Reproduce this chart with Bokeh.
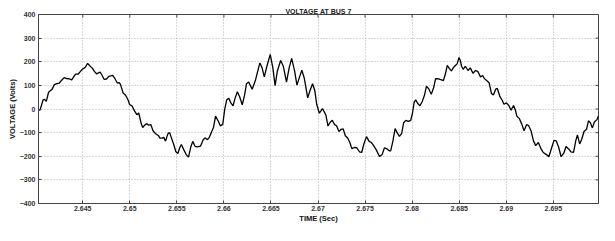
import math
from bokeh.plotting import figure
from bokeh.models import FixedTicker, Range1d, ColumnDataSource
from bokeh.embed import file_html
from bokeh.resources import INLINE

time_s = [
    2.64035, 2.64046, 2.64079, 2.64095, 2.64113, 2.64137, 2.64155, 2.64175, 2.64199, 2.64224,
    2.64251, 2.64279, 2.64303, 2.64328, 2.64355, 2.64383, 2.64407, 2.64424, 2.64452, 2.64476,
    2.64494, 2.64510, 2.64528, 2.64552, 2.64580, 2.64604, 2.64624, 2.64649, 2.64666, 2.64684,
    2.64701, 2.64728, 2.64753, 2.64777, 2.64798, 2.64818, 2.64842, 2.64867, 2.64888, 2.64901,
    2.64929, 2.64956, 2.64981, 2.64998, 2.65026, 2.65050, 2.65075, 2.65095, 2.65119, 2.65137,
    2.65154, 2.65178, 2.65199, 2.65223, 2.65247, 2.65275, 2.65303, 2.65320, 2.65344, 2.65361,
    2.65379, 2.65407, 2.65423, 2.65465, 2.65490, 2.65510, 2.65534, 2.65548, 2.65573, 2.65600,
    2.65624, 2.65648, 2.65669, 2.65693, 2.65718, 2.65752, 2.65780, 2.65799, 2.65825, 2.65845,
    2.65866, 2.65890, 2.65911, 2.65936, 2.65963, 2.65988, 2.66008, 2.66029, 2.66050, 2.66074,
    2.66097, 2.66118, 2.66143, 2.66167, 2.66195, 2.66219, 2.66240, 2.66263, 2.66300, 2.66336,
    2.66382, 2.66406, 2.66429, 2.66457, 2.66492, 2.66520, 2.66544, 2.66568, 2.66603, 2.66631,
    2.66665, 2.66693, 2.66720, 2.66751, 2.66776, 2.66803, 2.66828, 2.66855, 2.66890, 2.66914,
    2.66942, 2.66966, 2.66986, 2.67014, 2.67047, 2.67083, 2.67106, 2.67129, 2.67152, 2.67176,
    2.67197, 2.67222, 2.67246, 2.67267, 2.67290, 2.67315, 2.67336, 2.67360, 2.67384, 2.67412,
    2.67440, 2.67464, 2.67487, 2.67515, 2.67543, 2.67567, 2.67591, 2.67619, 2.67653, 2.67681,
    2.67705, 2.67730, 2.67757, 2.67772, 2.67796, 2.67819, 2.67840, 2.67865, 2.67889, 2.67910,
    2.67933, 2.67958, 2.67985, 2.68003, 2.68021, 2.68037, 2.68062, 2.68083, 2.68107, 2.68131,
    2.68151, 2.68176, 2.68203, 2.68228, 2.68249, 2.68270, 2.68297, 2.68332, 2.68353, 2.68373,
    2.68394, 2.68418, 2.68436, 2.68459, 2.68477, 2.68498, 2.68511, 2.68525, 2.68542, 2.68566,
    2.68594, 2.68618, 2.68646, 2.68670, 2.68698, 2.68726, 2.68750, 2.68767, 2.68794, 2.68819,
    2.68843, 2.68864, 2.68888, 2.68905, 2.68933, 2.68957, 2.68975, 2.69002, 2.69027, 2.69051,
    2.69077, 2.69095, 2.69113, 2.69141, 2.69165, 2.69189, 2.69217, 2.69237, 2.69263, 2.69289,
    2.69313, 2.69341, 2.69369, 2.69393, 2.69427, 2.69452, 2.69479, 2.69507, 2.69531, 2.69556,
    2.69583, 2.69611, 2.69635, 2.69660, 2.69687, 2.69715, 2.69738, 2.69756, 2.69780, 2.69801,
    2.69826, 2.69853, 2.69873, 2.69894, 2.69915, 2.69936, 2.69964, 2.69981,
]

voltage_v = [
    -5, -5, 39, 41, 32, 71, 77, 84, 103, 107,
    110, 123, 133, 129, 128, 123, 138, 148, 148, 159,
    168, 172, 177, 193, 181, 172, 159, 148, 153, 156,
    146, 125, 127, 138, 140, 142, 129, 110, 112, 104,
    68, 58, 39, 19, 12, -8, -24, -17, -58, -79,
    -70, -62, -68, -66, -92, -105, -112, -123, -123, -120,
    -136, -103, -100, -148, -181, -188, -161, -150, -172, -193,
    -204, -161, -137, -158, -160, -157, -130, -122, -130, -120,
    -100, -77, -30, -48, -72, -64, -3, 38, 46, 26,
    13, 45, 73, 52, 18, 58, 107, 114, 84, 123,
    195, 174, 136, 181, 231, 174, 99, 161, 205, 181,
    114, 174, 214, 161, 101, 135, 164, 129, 47, 77,
    107, 77, 20, -18, 2, -25, -72, -56, -48, -66,
    -71, -95, -86, -84, -113, -123, -140, -168, -163, -164,
    -181, -184, -148, -117, -137, -142, -155, -173, -201, -193,
    -165, -168, -177, -177, -135, -83, -100, -116, -103, -58,
    -48, -52, -48, -19, 28, 39, 22, 14, 32, 58,
    96, 86, 62, 90, 128, 129, 125, 120, 148, 185,
    172, 161, 174, 184, 190, 218, 206, 181, 168, 181,
    163, 174, 151, 162, 159, 136, 142, 129, 120, 110,
    65, 60, 84, 87, 52, 37, 20, 26, 15, -5,
    15, -2, -30, -42, -64, -92, -66, -70, -92, -135,
    -155, -142, -168, -184, -193, -202, -168, -133, -135, -161,
    -202, -187, -159, -168, -181, -184, -135, -110, -148, -129,
    -95, -86, -50, -58, -80, -55, -45, -28,
]

x_ticks = [2.645, 2.65, 2.655, 2.66, 2.665, 2.67, 2.675, 2.68, 2.685, 2.69, 2.695]
x_tick_labels = ["2.645", "2.65", "2.655", "2.66", "2.665", "2.67", "2.675", "2.68", "2.685", "2.69", "2.695"]
y_ticks = [-400, -300, -200, -100, 0, 100, 200, 300, 400]

X_MIN, X_MAX = 2.6403, 2.6998
Y_MIN, Y_MAX = -400, 400

FONT = "Liberation Sans"
AX_COL = "#444444"

p = figure(width=599, height=225, output_backend="svg", toolbar_location=None,
           x_range=Range1d(X_MIN, X_MAX), y_range=Range1d(Y_MIN, Y_MAX),
           min_border_left=38, min_border_right=1, min_border_top=14, min_border_bottom=0,
           title="VOLTAGE AT BUS 7")

p.title.align = "center"
p.title.text_font = FONT
p.title.text_font_size = "7px"
p.title.text_font_style = "bold"
p.title.text_color = "#222222"
p.title.standoff = 0
p.title.offset = 0

src = ColumnDataSource(dict(t=time_s, v=voltage_v))
p.line("t", "v", source=src, line_color="black", line_width=1.3)

p.outline_line_color = AX_COL
p.outline_line_width = 1
p.background_fill_color = "white"
p.border_fill_color = "white"

p.xaxis.ticker = FixedTicker(ticks=x_ticks)
p.xaxis.major_label_overrides = {t: s for t, s in zip(x_ticks, x_tick_labels)}
p.yaxis.ticker = FixedTicker(ticks=y_ticks)

for ax in (p.xaxis[0], p.yaxis[0]):
    ax.major_tick_in = 3
    ax.major_tick_out = 0
    ax.minor_tick_in = 0
    ax.minor_tick_out = 0
    ax.axis_line_color = AX_COL
    ax.major_tick_line_color = AX_COL
    ax.major_label_text_font = FONT
    ax.major_label_text_font_size = "7px"
    ax.major_label_text_font_style = "bold"
    ax.major_label_text_color = "#333333"
    ax.axis_label_text_font = FONT
    ax.axis_label_text_font_size = "7.5px"
    ax.axis_label_text_font_style = "bold"
    ax.axis_label_text_color = "#111111"
    ax.axis_label_standoff = 0

p.xaxis.axis_label = "TIME (Sec)"
p.yaxis.axis_label = "VOLTAGE (Volts)"
p.xaxis.major_label_standoff = 2
p.yaxis.major_label_standoff = 3

# inward tick marks on the top and right edges of the box (clipped to the frame)
p.scatter(x=x_ticks, y=[Y_MAX] * len(x_ticks), marker="dash", size=6, angle=math.pi / 2,
          line_color=AX_COL, line_width=1)
p.scatter(x=[X_MAX] * len(y_ticks), y=y_ticks, marker="dash", size=6,
          line_color=AX_COL, line_width=1)

for g in (p.xgrid[0], p.ygrid[0]):
    g.grid_line_color = "#b0b0b0"
    g.grid_line_dash = "1 2"
    g.grid_line_width = 1
p.xgrid[0].ticker = FixedTicker(ticks=x_ticks)
p.ygrid[0].ticker = FixedTicker(ticks=y_ticks)

open("out.html", "w").write(file_html(p, INLINE))
